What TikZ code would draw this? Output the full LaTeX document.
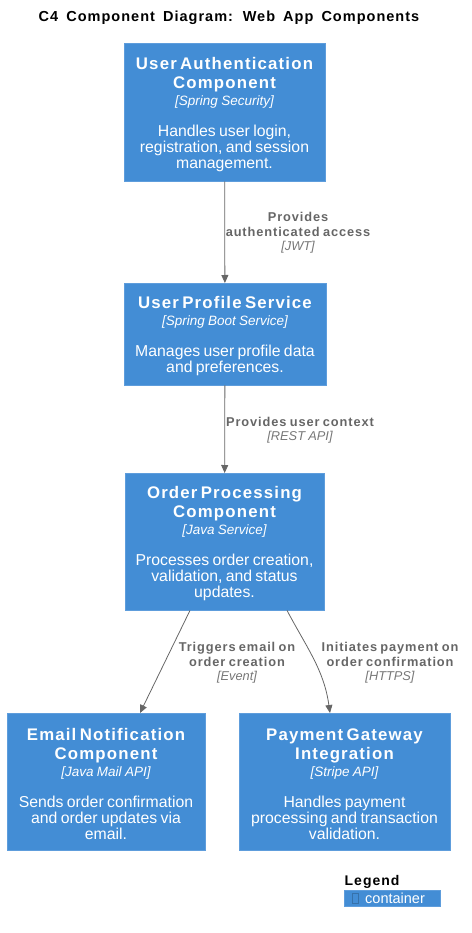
\documentclass[tikz,border=0pt]{standalone}
\usepackage{fontspec}
\setmainfont{Liberation Sans}
\newfontfamily\spaced[LetterSpace=7,WordSpace=1.6]{Liberation Sans}
\usetikzlibrary{arrows.meta}
\setlength{\parindent}{0pt}
\setlength{\parskip}{0pt}

\definecolor{compblue}{HTML}{438DD5}
\definecolor{compedge}{HTML}{5E9DDC}
\definecolor{relgray}{HTML}{666666}
\definecolor{techgray}{HTML}{777777}

\newcommand{\compbody}[3]{%
  {\fontsize{16.8}{19}\selectfont\spaced\bfseries\rule{0pt}{16pt}#1\par}%
  {\fontsize{13.5}{17}\selectfont\itshape #2\par}%
  \vspace{15pt}%
  {\fontsize{15.8}{16}\selectfont #3\par}}
\newcommand{\rellabel}[2]{%
  {\fontsize{12.8}{14.5}\selectfont\spaced\bfseries #1\par}%
  {\fontsize{12.8}{14.5}\selectfont\itshape\color{techgray} #2\par}}

\tikzset{
  compbox/.style={draw=compedge, fill=compblue, text=white, align=center,
    inner xsep=2pt, inner ysep=0pt, text width=#1, anchor=north},
  rel/.style={text=relgray, align=center, text width=170pt, inner sep=0pt},
  link/.style={draw=relgray, line width=0.8pt, -{Triangle[length=8pt,width=7pt]}},
}

\begin{document}
\begin{tikzpicture}[x=1pt,y=1pt]
\useasboundingbox (0,0) rectangle (471,-933);

% title
\node[font=\fontsize{14.5}{16}\selectfont\spaced\bfseries] (title) at (229,-18)
  {C4 Component Diagram: Web App Components};

% components
\node[compbox=197pt, minimum height=138pt] (auth) at (224.5,-43)
  {\compbody{User Authentication\\Component}{[Spring Security]}
    {Handles user login,\\registration, and session\\management.}};
\node[compbox=198pt, minimum height=102pt] (profile) at (225,-283)
  {\compbody{User Profile Service}{[Spring Boot Service]}
    {Manages user profile data\\and preferences.}};
\node[compbox=195pt, minimum height=137pt] (order) at (224.5,-473)
  {\compbody{Order Processing\\Component}{[Java Service]}
    {Processes order creation,\\validation, and status\\updates.}};
\node[compbox=194pt, minimum height=137pt] (email) at (106,-713)
  {\compbody{Email Notification\\Component}{[Java Mail API]}
    {Sends order confirmation\\and order updates via\\email.}};
\node[compbox=207pt, minimum height=137pt] (payment) at (344.5,-713)
  {\compbody{Payment Gateway\\Integration}{[Stripe API]}
    {Handles payment\\processing and transaction\\validation.}};

% relations
\draw[link] (auth) -- (profile);
\draw[link] (profile) -- (order);
\draw[link] ([xshift=-34.5pt]order.south) -- ([xshift=34pt]email.north);
\draw[link] ([xshift=62.5pt]order.south) to[out=-62,in=98] ([xshift=-14.5pt]payment.north);

\node[rel] (lblauth) at (298,-233) {\rellabel{Provides\\authenticated access}{[JWT]}};
\node[rel] (lblprofile) at (300,-430) {\rellabel{Provides user context}{[REST API]}};
\node[rel] (lblemail) at (237,-663) {\rellabel{Triggers email on\\order creation}{[Event]}};
\node[rel] (lblpay) at (390,-663) {\rellabel{Initiates payment on\\order confirmation}{[HTTPS]}};

% legend
\node[anchor=west, inner sep=0pt, font=\fontsize{14}{16}\selectfont\spaced\bfseries] (legend) at (344.5,-882) {Legend};
\node[fill=compblue, draw=compedge, minimum width=96pt, minimum height=16pt,
  anchor=north west, inner sep=0pt] (legbox) at (344,-890) {};
\node[draw=compblue!80!black, line width=0.4pt, minimum width=6pt, minimum height=10pt,
  inner sep=0pt] (legicon) at (355,-898) {};
\node[text=white, anchor=west, inner sep=0pt, font=\fontsize{14.5}{16}\selectfont] (legtext) at (365,-898) {container};

\end{tikzpicture}
\end{document}
